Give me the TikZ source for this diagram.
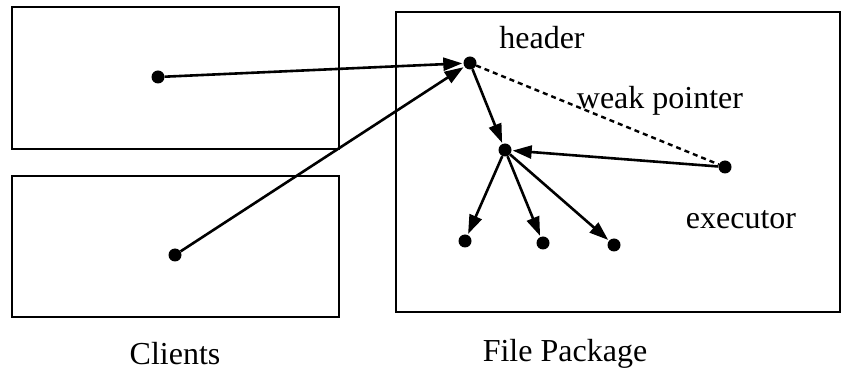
\documentclass[tikz,border=0pt]{standalone}
\usepackage{fontspec}
\setmainfont{Liberation Serif}
\usetikzlibrary{arrows.meta}
\begin{document}
\begin{tikzpicture}[x=1pt,y=-1pt,
  dot/.style={circle, fill=black, inner sep=0pt, minimum size=13pt},
  ptr/.style={-{Triangle[length=19pt,width=13pt]}, line width=2.6pt, shorten >=1pt},
  box/.style={line width=2.6pt},
  lbl/.style={font=\fontsize{32}{38}\selectfont}]
\useasboundingbox (0,0) rectangle (855,379);
% client and package frames
\draw[box] (12,7) rectangle (339,149);
\draw[box] (12,176) rectangle (339,317);
\draw[box] (396,12) rectangle (840,312);
% objects
\node[dot] (clienta) at (158,77) {};
\node[dot] (clientb) at (175,255) {};
\node[dot] (header) at (470,63) {};
\node[dot] (root) at (505,150) {};
\node[dot] (executor) at (725,167) {};
\node[dot] (leafa) at (465,241) {};
\node[dot] (leafb) at (543,243) {};
\node[dot] (leafc) at (614,245) {};
% pointers
\draw[ptr] (clienta) -- (header);
\draw[ptr] (clientb) -- (header);
\draw[ptr] (header) -- (root);
\draw[ptr] (executor) -- (root);
\foreach \leaf in {leafa,leafb,leafc}
  \draw[ptr] (root) -- (\leaf);
\draw[line width=2.4pt, dash pattern=on 5pt off 4pt] (header) -- (executor);
% labels
\node[lbl] (headertxt) at (542,38) {header};
\node[lbl] (weaktxt) at (660,101) {weak pointer};
\node[lbl] (exectxt) at (741,220) {executor};
\node[lbl] (clientstxt) at (175,354) {Clients};
\node[lbl] (packagetxt) at (565,354) {File Package};
\end{tikzpicture}
\end{document}
